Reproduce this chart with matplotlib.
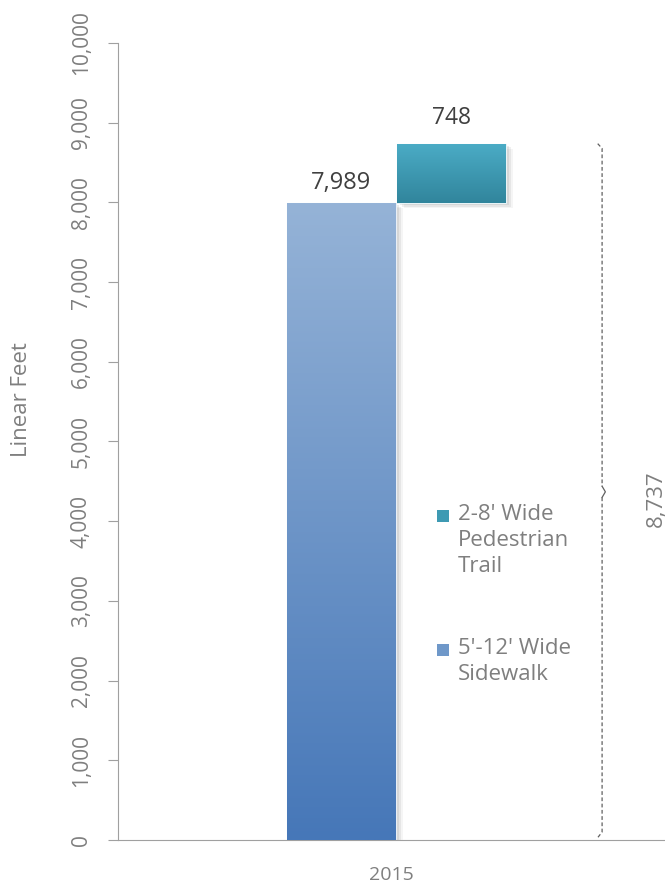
import numpy as np
import matplotlib
matplotlib.use("Agg")
import matplotlib.pyplot as plt
import matplotlib.patheffects as pe
from matplotlib.colors import LinearSegmentedColormap
from matplotlib.patches import Rectangle

plt.rcParams['font.family'] = ['Open Sans', 'DejaVu Sans']

categories = ['2015']
sidewalk = [7989]
trail = [748]
series_names = ["2-8' Wide\nPedestrian\nTrail", "5'-12' Wide\nSidewalk"]
yticks = [0, 1000, 2000, 3000, 4000, 5000, 6000, 7000, 8000, 9000, 10000]

total = sidewalk[0] + trail[0]

grey = '#7f7f7f'
fig = plt.figure(figsize=(6.65, 8.9), dpi=100)
ax = fig.add_axes([118/665, 50/890, 547/665, 797/890])

bw = 0.199
sw_cmap = LinearSegmentedColormap.from_list('sw', ['#4677b8', '#95b3d7'])
tr_cmap = LinearSegmentedColormap.from_list('tr', ['#31859c', '#4bacc6'])
shadow = [pe.SimplePatchShadow(offset=(2, -1.5), shadow_rgbFace='#000000', alpha=0.07),
          pe.SimplePatchShadow(offset=(3.5, -2.5), shadow_rgbFace='#000000', alpha=0.06),
          pe.SimplePatchShadow(offset=(5, -3.5), shadow_rgbFace='#000000', alpha=0.04),
          pe.Normal()]

x1, x2 = -0.0915, 0.1095
b1 = ax.bar([x1], sidewalk, width=bw, color='#6f98c9', edgecolor='#e8eef6', linewidth=0.8,
            zorder=2)
b2 = ax.bar([x2], trail, bottom=sidewalk, width=bw, color='#3e9ab3', edgecolor='#e8f4f7',
            linewidth=0.8, zorder=2)

grad = np.linspace(0, 1, 256).reshape(-1, 1)
for bars, cmap in ((b1, sw_cmap), (b2, tr_cmap)):
    for p in bars:
        p.set_path_effects(shadow)
        x0, y0 = p.get_x(), p.get_y()
        im = ax.imshow(grad, cmap=cmap, origin='lower', aspect='auto',
                       extent=[x0, x0 + p.get_width(), y0, y0 + p.get_height()], zorder=3)
        im.set_clip_path(p)

ax.text(x1, sidewalk[0] + 110, f'{sidewalk[0]:,}', ha='center', va='bottom',
        fontsize=17, color='#404040')
ax.text(x2, total + 170, f'{trail[0]:,}', ha='center', va='bottom',
        fontsize=16.5, color='#404040')

# brace showing total
bx = 0.385
ls = (0, (3, 2))
ax.plot([bx - 0.008, bx, bx], [total, total - 60, total / 2 + 70], ls=ls, color='#606060', lw=0.9)
ax.plot([bx, bx + 0.006, bx], [total / 2 + 70, total / 2, total / 2 - 70], color='#606060', lw=0.9)
ax.plot([bx, bx, bx - 0.008], [total / 2 - 70, 100, 30], ls=ls, color='#606060', lw=0.9)
ax.text(0.4835, total / 2 - 80, f'{total:,}', rotation=90, ha='center', va='center',
        fontsize=16, color=grey)

ax.set_xlim(-0.5, 0.5)
ax.set_ylim(0, 10000)
ax.set_xticks([0])
ax.set_xticklabels(categories)
ax.set_yticks(yticks)
ax.set_yticklabels([f'{v:,}' for v in yticks])
ax.tick_params(axis='y', labelrotation=90, length=7, color='#a0a0a0', labelsize=15,
               labelcolor=grey, pad=12)
ax.tick_params(axis='x', length=0, labelsize=14, labelcolor=grey, pad=19)
for lab in ax.get_yticklabels():
    lab.set_va('center')

for s in ['top', 'right']:
    ax.spines[s].set_visible(False)
ax.spines['left'].set_color('#a0a0a0')
ax.spines['bottom'].set_color('#a0a0a0')

ax.set_ylabel('Linear Feet', fontsize=16, color=grey)
ax.yaxis.set_label_coords(-0.158, 0.553)

# legend, drawn by hand so the square sits beside the first line
leg_items = [(series_names[0], '#3e9ab3', 516), (series_names[1], '#6f98c9', 650)]
for name, col, ypx in leg_items:
    ya = (890 - ypx - 50) / 797
    ax.add_patch(Rectangle(((437 - 118) / 547, ya - 6 / 797), 12 / 547, 12 / 797,
                           transform=ax.transAxes, facecolor=col, edgecolor='none', clip_on=False))
    ax.text((458 - 118) / 547, ya + 12 / 797, name, transform=ax.transAxes, ha='left', va='top',
            fontsize=16, color=grey, linespacing=1.32)

fig.savefig('out.png', dpi=100)
